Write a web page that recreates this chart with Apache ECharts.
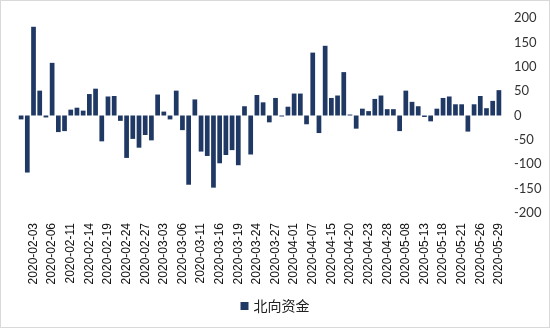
<!DOCTYPE html>
<html>
<head>
<meta charset="utf-8">
<script src="https://cdn.jsdelivr.net/npm/echarts@6/dist/echarts.min.js"></script>
<style>
html,body{margin:0;padding:0;background:#fff;}
#c{width:548px;height:326px;border:1px solid #d9d9d9;}
</style>
</head>
<body>
<div id="c"></div>
<script>
const dates = [
  "2020-01-22","2020-01-23",
  "2020-02-03","2020-02-04","2020-02-05","2020-02-06","2020-02-07","2020-02-10","2020-02-11","2020-02-12","2020-02-13","2020-02-14",
  "2020-02-17","2020-02-18","2020-02-19","2020-02-20","2020-02-21","2020-02-24","2020-02-25","2020-02-26","2020-02-27","2020-02-28",
  "2020-03-02","2020-03-03","2020-03-04","2020-03-05","2020-03-06","2020-03-09","2020-03-10","2020-03-11","2020-03-12","2020-03-13",
  "2020-03-16","2020-03-17","2020-03-18","2020-03-19","2020-03-20","2020-03-23","2020-03-24","2020-03-25","2020-03-26","2020-03-27",
  "2020-03-30","2020-03-31",
  "2020-04-01","2020-04-02","2020-04-03","2020-04-07","2020-04-08","2020-04-14","2020-04-15","2020-04-16","2020-04-17",
  "2020-04-20","2020-04-21","2020-04-22","2020-04-23","2020-04-24","2020-04-27","2020-04-28",
  "2020-05-06","2020-05-07","2020-05-08","2020-05-11","2020-05-12","2020-05-13","2020-05-14","2020-05-15",
  "2020-05-18","2020-05-19","2020-05-20","2020-05-21","2020-05-22","2020-05-25","2020-05-26","2020-05-27","2020-05-28","2020-05-29"
];
const northbound = [
  -8, -117,
  182, 51, -4, 108, -34, -32, 12, 16, 10, 44,
  55, -53, 39, 40, -11, -87, -48, -66, -40, -51,
  43, 8, -8, 51, -30, -142, 33, -74, -83, -148,
  -98, -81, -71, -102, 19, -80, 42, 27, -14, 36,
  -2, 18,
  45, 45, -18, 129, -36, 143, 36, 41, 89,
  2, -27, 14, 9, 34, 41, 13,
  13, -32, 51, 28, 19, -3, -12, 14,
  36, 39, 23, 23, -33, 23, 40, 15, 30, 52
];
const yTicks = { min: -200, max: 200, interval: 50 };
const seriesName = "北向资金";

const chart = echarts.init(document.getElementById('c'));
chart.setOption({
  animation: false,
  grid: { left: 17, right: 47, top: 17, bottom: 114 },
  legend: {
    bottom: 9, left: 'center',
    itemWidth: 8, itemHeight: 8, itemGap: 10,
    icon: 'rect',
    textStyle: { fontSize: 14, color: '#222', fontFamily: '"Noto Sans CJK SC", sans-serif' },
    data: [seriesName]
  },
  xAxis: {
    type: 'category',
    data: dates,
    axisLine: { show: false },
    axisTick: { show: false },
    axisLabel: {
      rotate: 90,
      fontSize: 12,
      color: '#111',
      fontFamily: '"Liberation Sans", Arial, sans-serif',
      margin: 10,
      interval: function (index) { return index % 3 === 2; }
    }
  },
  yAxis: {
    type: 'value',
    position: 'right',
    min: yTicks.min, max: yTicks.max, interval: yTicks.interval,
    splitLine: { show: false },
    axisLine: { show: false },
    axisTick: { show: false },
    axisLabel: {
      fontSize: 13, color: '#333', margin: 12,
      fontFamily: 'Lato, "Open Sans", sans-serif'
    }
  },
  series: [{
    name: seriesName,
    type: 'bar',
    data: northbound,
    barWidth: '76%',
    itemStyle: { color: '#1f3864' }
  }]
});
</script>
</body>
</html>
